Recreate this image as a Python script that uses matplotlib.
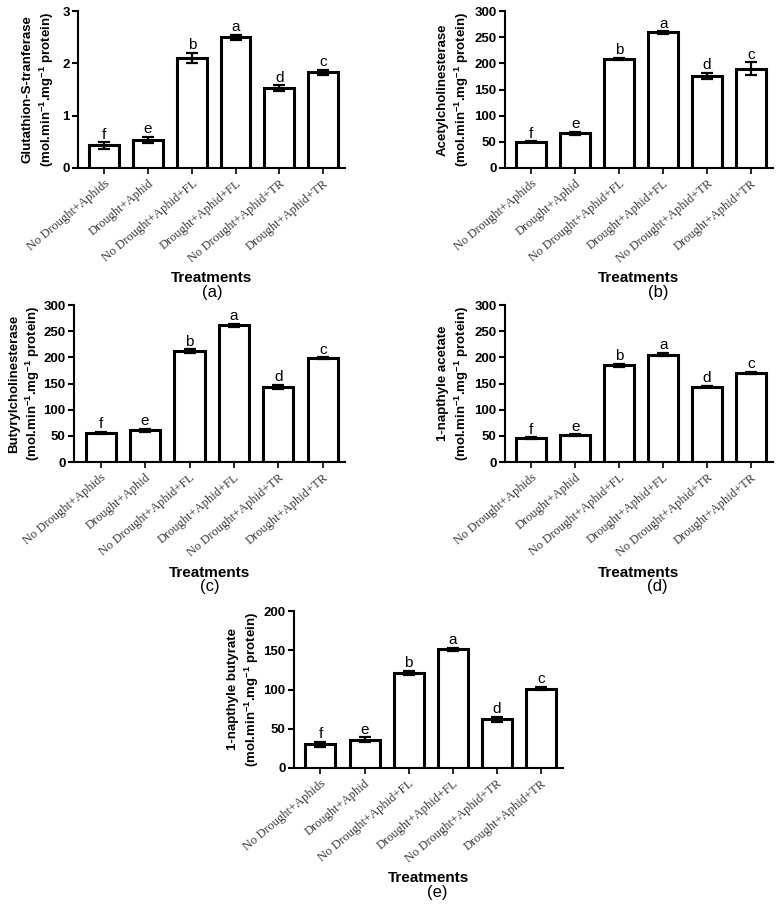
import numpy as np
import matplotlib
matplotlib.use('Agg')
import matplotlib.pyplot as plt

plt.rcParams['font.family'] = ['Liberation Sans', 'DejaVu Sans']
plt.rcParams['mathtext.fontset'] = 'custom'
plt.rcParams['mathtext.bf'] = 'Liberation Sans:bold'
plt.rcParams['mathtext.rm'] = 'Liberation Sans'

treatments = ['No Drought+Aphids', 'Drought+Aphid', 'No Drought+Aphid+FL',
              'Drought+Aphid+FL', 'No Drought+Aphid+TR', 'Drought+Aphid+TR']
letters = ['f', 'e', 'b', 'a', 'd', 'c']

gst_mean = [0.43, 0.53, 2.10, 2.50, 1.53, 1.83]
gst_err = [0.06, 0.06, 0.10, 0.05, 0.05, 0.05]

ache_mean = [50, 66, 208, 259, 176, 190]
ache_err = [1, 3, 2, 2, 6, 12]

bche_mean = [56, 61, 212, 261, 143, 198]
bche_err = [2, 3, 3, 3, 4, 2]

naa_mean = [45, 51, 185, 205, 144, 170]
naa_err = [2, 2, 3, 3, 1, 2]

nab_mean = [30, 36, 121, 151, 62, 101]
nab_err = [3, 3, 3, 2, 3, 2]

unit = '(mol.min$\\mathbf{^{-1}}$.mg$\\mathbf{^{-1}}$ protein)'

W, H = 783, 906
fig = plt.figure(figsize=(W / 100, H / 100), dpi=100)


def rect(l, r, t, b):
    return [l / W, 1 - b / H, (r - l) / W, (b - t) / H]


def panel(box, means, errs, ylab, ymax, step, lab_off, tag, tag_x, tr_y, tag_y):
    ax = fig.add_axes(rect(*box))
    x = np.arange(len(treatments))
    ax.bar(x, means, width=0.68, color='white', edgecolor='black', linewidth=2.2,
           yerr=errs, capsize=4.5, error_kw=dict(elinewidth=1.6, capthick=1.6, ecolor='black'))
    for xi, m, e, l in zip(x, means, errs, letters):
        ax.annotate(l, (xi, m + e), xytext=(0, 0.5), textcoords='offset points',
                    ha='center', va='bottom', fontsize=11)
    ax.set_xlim(-0.6, 5.5)
    ax.set_ylim(0, ymax)
    ax.set_yticks(np.arange(0, ymax + step / 2, step))
    ax.set_xticks(x)
    ax.set_xticklabels(treatments, rotation=40, ha='right', rotation_mode='anchor',
                       family='Liberation Serif', fontsize=9, color='#3a3a3a')
    for t in ax.get_yticklabels():
        t.set_fontweight('bold')
        t.set_fontsize(9.5)
    ax.tick_params(axis='y', width=1.5, length=4, pad=2)
    ax.tick_params(axis='x', width=1.2, length=4, pad=3)
    for s in ['top', 'right']:
        ax.spines[s].set_visible(False)
    for s in ['left', 'bottom']:
        ax.spines[s].set_linewidth(1.5)
    ax.set_ylabel(ylab + '\n' + unit, fontsize=9.5, fontweight='bold', linespacing=1.3)
    ax.yaxis.label.set_verticalalignment('center')
    ax.yaxis.set_label_coords(-lab_off / (box[1] - box[0]), 0.5)
    cx = (box[0] + box[1]) / 2
    fig.text(cx / W, 1 - tr_y / H, 'Treatments', ha='center', va='center',
             fontsize=11, fontweight='bold')
    fig.text(tag_x / W, 1 - tag_y / H, tag, ha='center', va='center', fontsize=12)
    return ax


panel((78, 345, 11, 168), gst_mean, gst_err, 'Glutathion-S-tranferase', 3, 1, 39,
      '(a)', 212, 278, 293)
panel((505, 773, 11, 168), ache_mean, ache_err, 'Acetylcholinesterase', 300, 50, 51,
      '(b)', 658, 278, 293)
panel((74, 345, 305, 462), bche_mean, bche_err, 'Butyrylcholinesterase', 300, 50, 49,
      '(c)', 210, 573, 586)
panel((505, 773, 305, 462), naa_mean, naa_err, '1-napthyle acetate', 300, 50, 51,
      '(d)', 657, 573, 586)
panel((294, 563, 611, 768), nab_mean, nab_err, '1-napthyle butyrate', 200, 50, 50,
      '(e)', 437, 878, 892)

fig.savefig('out.png', dpi=100)
